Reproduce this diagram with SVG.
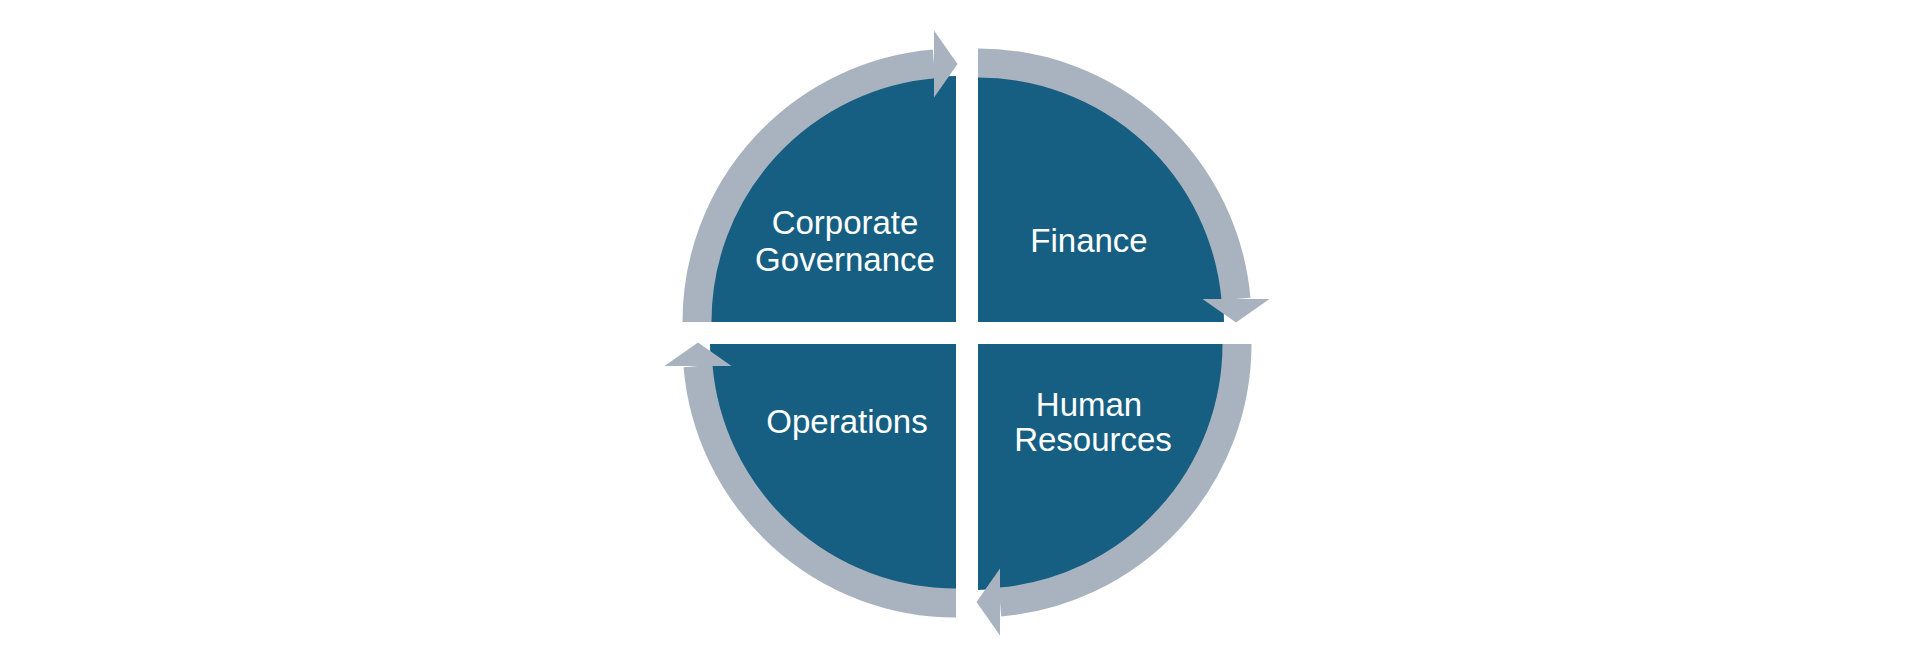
<svg xmlns="http://www.w3.org/2000/svg" width="1920" height="650" viewBox="0 0 1920 650">
<style>
.q{fill:#175f82}
.ring{fill:none;stroke:#a9b3bf;stroke-width:29}
.head{fill:#a9b3bf}
.lbl{font-family:"Liberation Sans",Arial,sans-serif;font-size:33px;fill:#ffffff;text-anchor:middle}
</style>
<rect x="0" y="0" width="1920" height="650" fill="#ffffff"/>
<g id="corporate-governance">
<path class="q" d="M956,322 L710,322 A246,246 0 0 1 956,76 Z"/>
<text class="lbl" x="845" y="234">Corporate</text>
<text class="lbl" x="845" y="271">Governance</text>
</g>
<g id="finance">
<path class="q" d="M978,322 L978,76 A246,246 0 0 1 1224,322 Z"/>
<text class="lbl" x="1089" y="252">Finance</text>
</g>
<g id="human-resources">
<path class="q" d="M978,344 L1224,344 A246,246 0 0 1 978,590 Z"/>
<text class="lbl" x="1089" y="415.5">Human</text>
<text class="lbl" x="1093" y="451">Resources</text>
</g>
<g id="operations">
<path class="q" d="M956,344 L956,590 A246,246 0 0 1 710,344 Z"/>
<text class="lbl" x="847" y="433">Operations</text>
</g>
<g id="connectors">
<path class="ring" d="M697,322 A259,259 0 0 1 934,63.9"/>
<polygon class="head" points="934,30.5 957.5,64 934,97.5"/>
<path class="ring" d="M978,63 A259,259 0 0 1 1236,299"/>
<polygon class="head" points="1202.5,299 1269.5,299 1236,322.5"/>
<path class="ring" d="M1237,344 A259,259 0 0 1 1000,602"/>
<polygon class="head" points="1000,568.5 976.5,602 1000,635.5"/>
<path class="ring" d="M956,603 A259,259 0 0 1 698,366"/>
<polygon class="head" points="731.5,366 698,342.5 664.5,366"/>
</g>
</svg>
